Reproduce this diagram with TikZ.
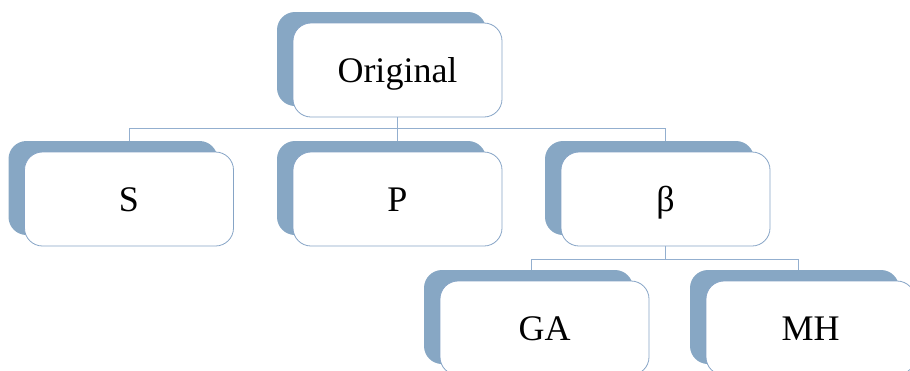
\documentclass[tikz,border=0pt]{standalone}
\usepackage{fontspec}
\setmainfont{Liberation Serif}
\usetikzlibrary{shadows,backgrounds,calc}
\definecolor{shadowblue}{HTML}{87A7C4}
\definecolor{edgeblue}{HTML}{86A4C6}
\definecolor{linkblue}{HTML}{93AFCF}
\tikzset{
  box/.style={rectangle, rounded corners=18pt, minimum width=209pt,
    minimum height=94pt, fill=white, draw=edgeblue, line width=0.8pt,
    font=\fontsize{36}{40}\selectfont, text height=30pt, text depth=6pt,
    general shadow={shadow xshift=-16pt, shadow yshift=11pt,
      fill=shadowblue, draw=none}},
  link/.style={draw=linkblue, line width=0.8pt}
}
\begin{document}
\begin{tikzpicture}[x=1pt,y=-1pt]
  \useasboundingbox (0,0) rectangle (910,370);
  \clip (0,0) rectangle (910,370);
  % tree nodes
  \node[box] (orig) at (397.5,70) {Original};
  \node[box] (s) at (129,199) {S};
  \node[box] (p) at (397.5,199) {P};
  \node[box] (beta) at (665.5,199) {β};
  \node[box] (ga) at (544.5,328) {GA};
  \node[box] (mh) at (810.5,328) {MH};
  % connectors, kept behind the boxes and their shadows
  \begin{scope}[on background layer]
    \draw[link] (orig.south) -- ++(0,11) -| (s.north);
    \draw[link] (orig.south) -- ++(0,11) -| (p.north);
    \draw[link] (orig.south) -- ++(0,11) -| (beta.north);
    \draw[link] (beta.south) -- ++(0,13) -| ($(ga.north)+(-13,0)$);
    \draw[link] (beta.south) -- ++(0,13) -| ($(mh.north)+(-12,0)$);
  \end{scope}
\end{tikzpicture}
\end{document}
